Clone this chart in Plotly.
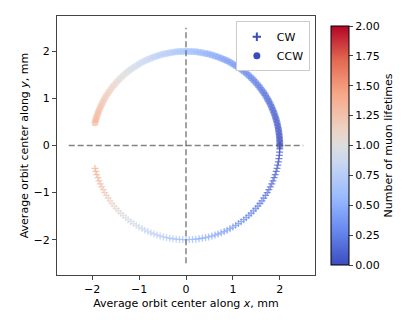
import numpy as np
import plotly.graph_objects as go

# phase of the orbit center along the circle (degrees) and elapsed time (muon lifetimes)
phase_deg = [
    0, 2, 4, 6, 8, 10, 12, 14, 16, 18, 20, 22, 24, 26, 28, 30, 32, 34, 36, 38,
    40, 42, 44, 46, 48, 50, 52, 54, 56, 58, 60, 62, 64, 66, 68, 70, 72, 74, 76, 78,
    80, 82, 84, 86, 88, 90, 92, 94, 96, 98, 100, 102, 104, 106, 108, 110, 112, 114,
    116, 118, 120, 122, 124, 126, 128, 130, 132, 134, 136, 138, 140, 142, 144, 146,
    148, 150, 152, 154, 156, 158, 160, 162, 164, 166,
]
lifetimes = [
    0.00, 0.01, 0.02, 0.03, 0.04, 0.05, 0.06, 0.07, 0.08, 0.09, 0.10, 0.11, 0.12,
    0.14, 0.15, 0.16, 0.17, 0.18, 0.20, 0.21, 0.22, 0.24, 0.25, 0.26, 0.28, 0.29,
    0.30, 0.32, 0.33, 0.35, 0.36, 0.37, 0.39, 0.40, 0.42, 0.44, 0.45, 0.47, 0.48,
    0.50, 0.52, 0.53, 0.55, 0.57, 0.58, 0.60, 0.62, 0.64, 0.65, 0.67, 0.69, 0.71,
    0.73, 0.74, 0.76, 0.78, 0.80, 0.82, 0.84, 0.86, 0.88, 0.90, 0.92, 0.94, 0.96,
    0.98, 1.00, 1.02, 1.05, 1.07, 1.09, 1.11, 1.13, 1.16, 1.18, 1.20, 1.22, 1.25,
    1.27, 1.29, 1.32, 1.34, 1.36, 1.39,
]
radius_mm = 2.0

coolwarm = [
    [0.0, "#3b4cc0"], [0.143, "#6788ee"], [0.286, "#9abbff"], [0.429, "#c9d7f0"],
    [0.5, "#dddddd"], [0.571, "#edd1c2"], [0.714, "#f7a889"], [0.857, "#e26952"],
    [1.0, "#b40426"],
]

phi = np.radians(phase_deg)
x_ccw = radius_mm * np.cos(phi)
y_ccw = radius_mm * np.sin(phi)
x_cw = radius_mm * np.cos(-phi)
y_cw = radius_mm * np.sin(-phi)

font = dict(family="DejaVu Sans", size=11, color="black")

fig = go.Figure()
fig.add_trace(go.Scatter(
    x=x_ccw, y=y_ccw, mode="markers", showlegend=False,
    marker=dict(symbol="circle", size=7, color=lifetimes, colorscale=coolwarm,
                cmin=0, cmax=2, opacity=0.6, line_width=0),
))
fig.add_trace(go.Scatter(
    x=x_cw, y=y_cw, mode="markers", showlegend=False,
    marker=dict(symbol="cross-thin", size=5, color=lifetimes, colorscale=coolwarm,
                cmin=0, cmax=2, opacity=0.7,
                line=dict(width=1.3, color=lifetimes, colorscale=coolwarm, cmin=0, cmax=2),
                colorbar=dict(
                    title=dict(text="Number of muon lifetimes", side="right", font=font),
                    tickvals=[0, 0.25, 0.5, 0.75, 1, 1.25, 1.5, 1.75, 2],
                    tickformat=".2f", ticks="outside", ticklen=4,
                    thickness=18, len=1, lenmode="fraction", y=0.5, yanchor="middle",
                    x=1.062, xanchor="left", xpad=0, outlinewidth=1, outlinecolor="black",
                    tickfont=font,
                )),
))
# legend entries
fig.add_trace(go.Scatter(x=[None], y=[None], mode="markers", name="CW",
                         marker=dict(symbol="cross-thin", size=6, color="#3b4cc0",
                                     line=dict(width=2, color="#3b4cc0"))))
fig.add_trace(go.Scatter(x=[None], y=[None], mode="markers", name="CCW",
                         marker=dict(symbol="circle", size=7, color="#3b4cc0")))

guide = 2.5
fig.add_shape(type="line", x0=-guide, x1=guide, y0=0, y1=0,
              line=dict(color="rgba(100,100,100,0.8)", width=1.5, dash="6px,3px"))
fig.add_shape(type="line", x0=0, x1=0, y0=-guide, y1=guide,
              line=dict(color="rgba(100,100,100,0.8)", width=1.5, dash="6px,3px"))

axis = dict(range=[-2.75, 2.75], tickvals=[-2, -1, 0, 1, 2], showgrid=False,
            zeroline=False, showline=True, mirror=True, linecolor="#444",
            linewidth=1, ticks="outside", ticklen=4, tickcolor="#444", tickfont=font,
            automargin=False)
fig.update_xaxes(**axis, title=dict(text="Average orbit center along <i>x</i>, mm",
                                    font=font, standoff=4))
fig.update_yaxes(**axis, title=dict(text="Average orbit center along <i>y</i>, mm",
                                    font=font, standoff=2))

fig.update_layout(
    width=407, height=326,
    margin=dict(l=49, r=100, t=8, b=59, autoexpand=False),
    plot_bgcolor="white", paper_bgcolor="white", font=font,
    legend=dict(x=0.98, y=0.98, xanchor="right", yanchor="top",
                bordercolor="#cccccc", borderwidth=1, bgcolor="white",
                font=font, itemwidth=30, tracegroupgap=0),
)
fig.write_html("out.html")
